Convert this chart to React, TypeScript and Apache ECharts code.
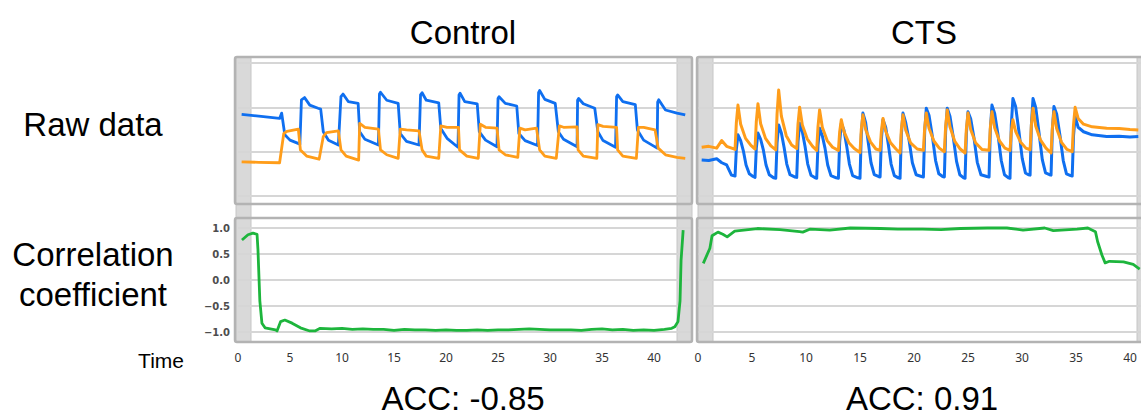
import React, { useEffect, useRef } from "react";
import * as echarts from "echarts";

// ---------- data ----------
const titles = ["Control", "CTS"];
const accLabels = ["ACC: -0.85", "ACC: 0.91"];
const rowLabels = ["Raw data", "Correlation", "coefficient"];
const timeLabel = "Time";

// Control – raw signals [time, value]
const controlBlue = [
  [0.35, 1.84], [2.0, 1.8], [4.0, 1.75], [4.2, 1.87], [4.5, 1.38], [5.0, 1.26], [5.95, 1.17],
  [6.1, 2.17], [6.4, 2.22], [6.9, 2.05], [7.7, 1.98], [7.95, 1.96], [8.2, 1.45], [8.7, 1.26], [9.65, 1.15],
  [9.9, 2.24], [10.1, 2.3], [10.6, 2.13], [11.55, 2.09], [11.7, 1.45], [12.2, 1.28], [13.5, 1.15],
  [13.6, 2.3], [13.7, 2.34], [14.3, 2.16], [15.4, 2.09], [15.6, 1.41], [16.2, 1.23], [17.4, 1.15],
  [17.55, 2.28], [17.7, 2.33], [18.1, 2.16], [19.3, 2.1], [19.5, 1.52], [20.1, 1.3], [21.15, 1.1],
  [21.25, 2.28], [21.35, 2.32], [21.8, 2.13], [23.0, 2.08], [23.2, 1.45], [23.8, 1.26], [24.9, 1.11],
  [25.0, 2.2], [25.1, 2.24], [25.7, 2.09], [26.8, 2.03], [27.0, 1.41], [27.6, 1.25], [28.8, 1.14],
  [28.9, 2.33], [29.0, 2.38], [29.5, 2.18], [30.5, 2.09], [30.8, 1.45], [31.3, 1.28], [32.6, 1.11],
  [32.65, 2.16], [32.75, 2.2], [33.2, 2.08], [34.3, 1.98], [34.6, 1.45], [35.1, 1.25], [36.3, 1.1],
  [36.4, 2.24], [36.5, 2.28], [37.0, 2.13], [38.2, 2.06], [38.4, 1.49], [39.0, 1.26], [40.3, 1.08],
  [40.35, 2.12], [40.45, 2.17], [41.1, 1.94], [42.2, 1.87], [43.0, 1.83],
];
const controlOrange = [
  [0.35, 0.77], [2.0, 0.76], [4.0, 0.75], [4.4, 1.41], [4.7, 1.46], [5.8, 1.51],
  [6.0, 1.04], [6.6, 0.9], [7.8, 0.83], [8.2, 1.34], [8.5, 1.43], [9.65, 1.47],
  [9.9, 1.04], [10.4, 0.9], [11.6, 0.81], [11.7, 1.64], [12.2, 1.55], [13.5, 1.51],
  [13.7, 1.04], [14.3, 0.93], [15.4, 0.85], [15.6, 1.51], [16.2, 1.49], [17.4, 1.47],
  [17.7, 1.04], [18.1, 0.9], [19.3, 0.85], [19.5, 1.58], [20.1, 1.55], [21.2, 1.55],
  [21.3, 1.04], [22.0, 0.9], [23.1, 0.85], [23.3, 1.62], [23.8, 1.55], [24.9, 1.53],
  [25.1, 1.04], [25.7, 0.93], [26.9, 0.87], [27.1, 1.53], [27.6, 1.49], [28.7, 1.53],
  [29.0, 1.04], [29.5, 0.9], [30.6, 0.85], [30.9, 1.58], [31.3, 1.55], [32.6, 1.56],
  [32.7, 1.04], [33.2, 0.9], [34.5, 0.85], [34.6, 1.61], [35.1, 1.57], [36.4, 1.55],
  [36.5, 1.04], [37.0, 0.9], [38.3, 0.85], [38.5, 1.55], [39.0, 1.55], [40.1, 1.49],
  [40.4, 1.08], [41.1, 0.93], [42.2, 0.87], [43.0, 0.85],
];

// CTS – raw signals [time, value]
const ctsBlue = [
  [0.34, 0.81], [1.0, 0.8], [1.73, 0.84], [2.2, 0.75], [2.65, 0.7], [3.1, 0.47],
  [3.43, 0.45], [3.55, 1.05], [3.7, 1.38], [3.95, 1.25], [4.2, 1.02], [4.45, 0.7], [4.75, 0.5], [5.1, 0.44],
  [5.28, 0.42], [5.4, 1.08], [5.55, 1.42], [5.8, 1.28], [6.05, 1.04], [6.3, 0.7], [6.6, 0.48], [7.0, 0.41],
  [7.2, 0.4], [7.32, 1.2], [7.47, 1.6], [7.72, 1.42], [7.97, 1.1], [8.22, 0.72], [8.52, 0.48], [8.95, 0.43],
  [9.14, 0.42], [9.26, 1.22], [9.41, 1.64], [9.66, 1.45], [9.91, 1.12], [10.16, 0.72], [10.46, 0.47], [10.85, 0.41],
  [10.99, 0.4], [11.11, 1.15], [11.26, 1.53], [11.51, 1.36], [11.76, 1.08], [12.01, 0.7], [12.31, 0.46], [12.8, 0.41],
  [13.0, 0.4], [13.12, 1.22], [13.27, 1.64], [13.52, 1.48], [13.77, 1.12], [14.02, 0.72], [14.32, 0.46], [14.8, 0.41],
  [15.0, 0.4], [15.12, 1.38], [15.27, 1.87], [15.52, 1.66], [15.77, 1.2], [16.02, 0.75], [16.32, 0.48], [16.7, 0.44],
  [16.86, 0.43], [16.98, 1.28], [17.13, 1.72], [17.38, 1.55], [17.63, 1.15], [17.88, 0.72], [18.18, 0.46], [18.55, 0.41],
  [18.71, 0.4], [18.83, 1.38], [18.98, 1.87], [19.23, 1.66], [19.55, 1.25], [19.85, 0.75], [20.2, 0.48], [20.7, 0.44],
  [20.87, 0.43], [20.99, 1.45], [21.14, 1.98], [21.39, 1.82], [21.7, 1.35], [22.0, 0.8], [22.3, 0.5], [22.65, 0.44],
  [22.81, 0.43], [22.93, 1.45], [23.08, 1.98], [23.33, 1.8], [23.64, 1.32], [23.94, 0.78], [24.24, 0.48], [24.6, 0.41],
  [24.73, 0.4], [24.85, 1.4], [25.0, 1.9], [25.25, 1.74], [25.56, 1.3], [25.86, 0.76], [26.2, 0.48], [26.75, 0.44],
  [26.95, 0.43], [27.07, 1.5], [27.22, 2.05], [27.47, 1.86], [27.78, 1.38], [28.08, 0.8], [28.38, 0.48], [28.75, 0.41],
  [28.89, 0.4], [29.01, 1.6], [29.16, 2.2], [29.41, 2.02], [29.72, 1.45], [30.02, 0.85], [30.32, 0.52], [30.6, 0.48],
  [30.75, 0.47], [30.87, 1.6], [31.02, 2.2], [31.27, 2.0], [31.58, 1.42], [31.88, 0.82], [32.18, 0.52], [32.55, 0.48],
  [32.69, 0.47], [32.81, 1.48], [32.96, 2.02], [33.21, 1.85], [33.52, 1.36], [33.82, 0.8], [34.12, 0.5], [34.5, 0.46],
  [34.65, 0.45], [34.77, 1.35], [34.92, 1.79], [35.2, 1.55], [35.7, 1.45], [36.5, 1.38], [37.84, 1.34],
  [39.0, 1.35], [40.0, 1.33], [40.77, 1.34],
];
const ctsOrange = [
  [0.34, 1.1], [1.0, 1.12], [1.73, 1.08], [2.19, 1.25], [2.65, 1.12], [3.12, 1.08],
  [3.43, 1.05], [3.55, 1.65], [3.7, 2.05], [3.95, 1.62], [4.4, 1.3], [4.9, 1.14],
  [5.28, 1.06], [5.4, 1.68], [5.55, 2.08], [5.8, 1.63], [6.25, 1.3], [6.75, 1.13],
  [7.2, 1.04], [7.32, 1.85], [7.47, 2.39], [7.72, 1.8], [8.17, 1.36], [8.67, 1.15],
  [9.14, 1.07], [9.26, 1.62], [9.41, 2.0], [9.66, 1.6], [10.11, 1.29], [10.61, 1.12],
  [10.99, 1.03], [11.11, 1.56], [11.26, 1.94], [11.51, 1.55], [11.96, 1.25], [12.46, 1.1],
  [13.0, 1.03], [13.12, 1.45], [13.27, 1.72], [13.52, 1.45], [13.97, 1.2], [14.47, 1.07],
  [15.0, 0.98], [15.12, 1.5], [15.27, 1.83], [15.52, 1.5], [15.97, 1.22], [16.47, 1.06],
  [16.86, 1.03], [16.98, 1.46], [17.13, 1.75], [17.38, 1.46], [17.83, 1.2], [18.33, 1.06],
  [18.71, 0.97], [18.83, 1.5], [18.98, 1.83], [19.23, 1.49], [19.68, 1.2], [20.3, 1.06],
  [20.87, 1.03], [20.99, 1.54], [21.14, 1.87], [21.39, 1.53], [21.84, 1.24], [22.34, 1.08],
  [22.81, 1.0], [22.93, 1.57], [23.08, 1.94], [23.33, 1.56], [23.78, 1.23], [24.28, 1.06],
  [24.73, 0.97], [24.85, 1.51], [25.0, 1.87], [25.25, 1.5], [25.7, 1.2], [26.3, 1.05],
  [26.95, 1.03], [27.07, 1.55], [27.22, 1.9], [27.47, 1.54], [27.92, 1.24], [28.42, 1.08],
  [28.89, 1.03], [29.01, 1.45], [29.16, 1.72], [29.41, 1.46], [29.86, 1.22], [30.36, 1.08],
  [30.75, 1.04], [30.87, 1.6], [31.02, 1.98], [31.27, 1.58], [31.72, 1.26], [32.22, 1.08],
  [32.69, 0.97], [32.81, 1.53], [32.96, 1.9], [33.21, 1.52], [33.66, 1.21], [34.16, 1.05],
  [34.65, 1.0], [34.77, 1.6], [34.92, 2.0], [35.2, 1.75], [35.7, 1.62], [36.5, 1.56],
  [37.84, 1.53], [39.0, 1.52], [40.0, 1.5], [40.77, 1.49],
];

// Correlation coefficients [time, r]
const controlCorr = [
  [0.38, 0.77], [0.96, 0.87], [1.44, 0.9], [1.83, 0.88], [1.92, 0.58], [2.1, -0.4], [2.3, -0.83],
  [2.6, -0.92], [3.6, -0.96], [3.75, -0.98], [4.1, -0.8], [4.5, -0.77], [5.2, -0.83], [6.0, -0.92],
  [6.9, -0.98], [7.4, -0.98], [7.9, -0.93], [9, -0.94], [10, -0.93], [11, -0.95], [12, -0.94],
  [13, -0.95], [14, -0.95], [15, -0.97], [16, -0.95], [17, -0.96], [18, -0.96], [19, -0.97],
  [20, -0.96], [21, -0.97], [22, -0.97], [23, -0.96], [24, -0.97], [25, -0.96], [26, -0.96],
  [27, -0.95], [28, -0.94], [29, -0.95], [30, -0.96], [31, -0.96], [32, -0.96], [33, -0.97],
  [34, -0.95], [35, -0.94], [36, -0.96], [37, -0.95], [38, -0.97], [39, -0.96], [40, -0.97],
  [41, -0.95], [41.7, -0.93], [42.0, -0.9], [42.3, -0.8], [42.5, -0.4], [42.6, 0.38], [42.8, 0.96],
];
const ctsCorr = [
  [0.49, 0.32], [1.1, 0.61], [1.3, 0.85], [1.85, 0.92], [2.3, 0.88], [2.7, 0.83], [3.4, 0.94],
  [5.5, 0.99], [7.6, 0.97], [9.4, 0.93], [9.7, 0.92], [10.4, 0.98], [12.2, 0.96], [14.1, 1.0],
  [16.9, 0.99], [18.5, 0.98], [20.8, 0.98], [22.5, 0.97], [24.3, 0.99], [26.8, 1.0], [28.6, 1.0],
  [30.1, 0.96], [32.1, 1.0], [32.9, 0.95], [35.1, 0.98], [36.1, 1.0], [36.8, 0.93], [37.0, 0.74],
  [37.4, 0.48], [37.7, 0.33], [38.1, 0.36], [39.4, 0.35], [40.3, 0.3], [40.9, 0.21],
];

const xTickStep = 5;
const corrTickStep = 0.5;

// ---------- styling ----------
const BLUE = "#0f6ff0";
const ORANGE = "#ff9d1a";
const GREEN = "#1db53c";
const GRIDLINE = "#d6d6d6";
const FRAME = "#b3b3b3";
const BAND = "#d9d9d9";
const FONT = "'Liberation Sans', Arial, sans-serif";

export default function App() {
  const ref = useRef<HTMLDivElement>(null);

  useEffect(() => {
    const chart = echarts.init(ref.current!, null, { renderer: "svg" });

    const grids = [
      { left: 238, top: 63, width: 454, height: 133 },
      { left: 238, top: 228, width: 454, height: 104 },
      { left: 698, top: 63, width: 443, height: 133 },
      { left: 698, top: 228, width: 443, height: 104 },
    ];
    const xMax = [43.65, 43.65, 41.02, 41.02];

    const xAxis = grids.map((_, i) => ({
      type: "value",
      gridIndex: i,
      min: 0,
      max: xMax[i],
      interval: xTickStep,
      axisLine: { show: false },
      axisTick: { show: false },
      splitLine: { show: false },
      axisLabel: {
        show: i === 1 || i === 3,
        showMaxLabel: false,
        margin: 19,
        fontSize: 12,
        color: "#333",
        fontFamily: "'Noto Sans', sans-serif",
      },
    }));

    const yAxis = grids.map((_, i) => {
      const isCorr = i === 1 || i === 3;
      return {
        type: "value",
        gridIndex: i,
        z: 1,
        min: isCorr ? -1 : 0,
        max: isCorr ? 1 : 3,
        interval: isCorr ? corrTickStep : 1,
        axisLine: { show: false },
        axisTick: { show: false },
        splitLine: { show: true, lineStyle: { color: GRIDLINE, width: 2 } },
        axisLabel: {
          show: i === 1,
          margin: 8,
          fontSize: 10,
          fontWeight: "bold",
          color: "#4d4d4d",
          fontFamily: "'DejaVu Sans', sans-serif",
          formatter: (v: number) => v.toFixed(1).replace("-", "\u2212"),
        },
      };
    });

    const line = (data: number[][], idx: number, color: string, width: number) => ({
      type: "line",
      xAxisIndex: idx,
      yAxisIndex: idx,
      data,
      showSymbol: false,
      symbol: "none",
      clip: false,
      z: 5,
      lineStyle: { color, width, join: "round" },
    });

    const series = [
      line(controlBlue, 0, BLUE, 2.8),
      line(controlOrange, 0, ORANGE, 2.8),
      line(controlCorr, 1, GREEN, 2.8),
      line(ctsBlue, 2, BLUE, 3),
      line(ctsOrange, 2, ORANGE, 3),
      line(ctsCorr, 3, GREEN, 2.8),
    ];

    const band = (x: number) => ({
      type: "rect",
      z: 0,
      shape: { x, y: 57, width: 15, height: 285 },
      style: { fill: BAND, stroke: "#c6c6c6", lineWidth: 1 },
    });
    const frame = (x: number, y: number, w: number, h: number) => ({
      type: "rect",
      z: 10,
      shape: { x, y, width: w, height: h, r: 2 },
      style: { fill: "none", stroke: FRAME, lineWidth: 2.5 },
    });
    const text = (t: string, x: number, y: number, size: number, align = "center") => ({
      type: "text",
      z: 20,
      x,
      y,
      style: {
        text: t,
        fontSize: size,
        fontFamily: FONT,
        fill: "#000",
        align,
        verticalAlign: "middle",
      },
    });

    chart.setOption({
      animation: false,
      backgroundColor: "#ffffff",
      grid: grids,
      xAxis,
      yAxis,
      series,
      graphic: [
        band(236), band(677), band(698), band(1137),
        frame(235, 57, 457, 147),
        frame(235, 218, 457, 124),
        frame(697, 57, 460, 147),
        frame(697, 218, 460, 124),
        text(titles[0], 463, 32, 33),
        text(titles[1], 924, 32, 33),
        text(rowLabels[0], 93, 124, 33),
        text(rowLabels[1], 93, 254, 33),
        text(rowLabels[2], 93, 294, 33),
        text(timeLabel, 184, 360, 21, "right"),
        text(accLabels[0], 463, 398, 33),
        text(accLabels[1], 922, 398, 33),
      ],
    });

    return () => chart.dispose();
  }, []);

  return (
    <div
      ref={ref}
      style={{ position: "absolute", left: 0, top: 0, width: 1141, height: 417 }}
    />
  );
}
